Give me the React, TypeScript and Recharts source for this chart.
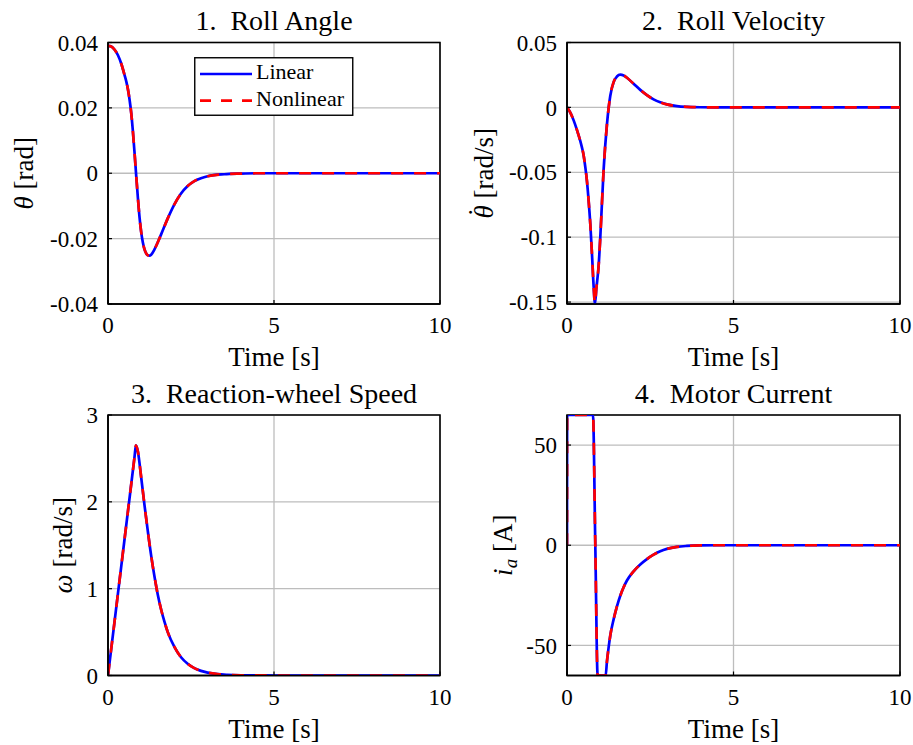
import React from 'react';
import { LineChart, Line, XAxis, YAxis, CartesianGrid, Legend, Label, ReferenceArea } from 'recharts';

const FONT = '"Liberation Serif", "Times New Roman", serif';

// ---- shared axis ticks ----
const timeTicks = [0, 5, 10];
const thetaTicks = [-0.04, -0.02, 0, 0.02, 0.04];
const rateTicks = [-0.15, -0.1, -0.05, 0, 0.05];
const omegaTicks = [0, 1, 2, 3];
const currentTicks = [-50, 0, 50];

// ---- 1. Roll angle ----
const t1 = [0, 0.1, 0.2, 0.3, 0.4, 0.5, 0.55, 0.6, 0.65, 0.7, 0.75, 0.8, 0.85, 0.9, 0.95, 1.0, 1.05, 1.1, 1.15, 1.2, 1.25, 1.3, 1.4, 1.5, 1.6, 1.8, 2.0, 2.2, 2.4, 2.6, 2.8, 3.0, 3.5, 4.0, 4.5, 5, 6, 7, 8, 9, 10];
const thetaLinear = [0.039, 0.0388, 0.0378, 0.0361, 0.0335, 0.03, 0.0281, 0.0257, 0.0225, 0.0184, 0.0128, 0.0062, -0.0008, -0.0075, -0.0135, -0.018, -0.0212, -0.0233, -0.0245, -0.0251, -0.0252, -0.0249, -0.0233, -0.0211, -0.0187, -0.0138, -0.0095, -0.0062, -0.0039, -0.0024, -0.0015, -0.0009, -0.0003, -0.0001, 0, 0, 0, 0, 0, 0, 0];
const thetaNonlinear = [0.039, 0.0388, 0.0378, 0.0361, 0.0335, 0.03, 0.0281, 0.0257, 0.0225, 0.0184, 0.0128, 0.0062, -0.0008, -0.0075, -0.0135, -0.018, -0.0212, -0.0233, -0.0245, -0.0251, -0.0252, -0.0249, -0.0233, -0.0211, -0.0187, -0.0138, -0.0095, -0.0062, -0.0039, -0.0024, -0.0015, -0.0009, -0.0003, -0.0001, 0, 0, 0, 0, 0, 0, 0];

// ---- 2. Roll velocity ----
const t2 = [0, 0.1, 0.2, 0.3, 0.4, 0.45, 0.5, 0.55, 0.6, 0.65, 0.7, 0.75, 0.8, 0.84, 0.88, 0.95, 1.0, 1.1, 1.2, 1.3, 1.4, 1.5, 1.6, 1.7, 1.8, 2.0, 2.2, 2.4, 2.6, 2.8, 3.0, 3.3, 3.6, 4.0, 4.5, 5, 6, 7, 8, 9, 10];
const rateLinear = [0, -0.004, -0.01, -0.0175, -0.026, -0.031, -0.037, -0.046, -0.057, -0.072, -0.09, -0.113, -0.138, -0.1512, -0.14, -0.122, -0.1, -0.048, -0.013, 0.009, 0.0195, 0.0238, 0.0252, 0.0246, 0.0228, 0.0182, 0.0135, 0.0095, 0.0062, 0.0039, 0.0023, 0.001, 0.0004, 0.0001, 0, 0, 0, 0, 0, 0, 0];
const rateNonlinear = [0, -0.004, -0.01, -0.0175, -0.026, -0.031, -0.037, -0.046, -0.057, -0.072, -0.09, -0.113, -0.138, -0.1512, -0.14, -0.122, -0.1, -0.048, -0.013, 0.009, 0.0195, 0.0238, 0.0252, 0.0246, 0.0228, 0.0182, 0.0135, 0.0095, 0.0062, 0.0039, 0.0023, 0.001, 0.0004, 0.0001, 0, 0, 0, 0, 0, 0, 0];

// ---- 3. Reaction-wheel speed ----
const t3 = [0, 0.2, 0.4, 0.6, 0.8, 0.84, 0.9, 1.0, 1.1, 1.2, 1.3, 1.4, 1.5, 1.6, 1.7, 1.8, 2.0, 2.2, 2.4, 2.6, 2.8, 3.0, 3.3, 3.6, 4.0, 4.5, 5, 6, 7, 8, 9, 10];
const omegaLinear = [0, 0.63, 1.26, 1.89, 2.52, 2.65, 2.58, 2.28, 1.96, 1.66, 1.38, 1.14, 0.93, 0.76, 0.62, 0.5, 0.33, 0.21, 0.135, 0.085, 0.053, 0.033, 0.016, 0.008, 0.003, 0.001, 0, 0, 0, 0, 0, 0];
const omegaNonlinear = [0, 0.63, 1.26, 1.89, 2.52, 2.65, 2.58, 2.28, 1.96, 1.66, 1.38, 1.14, 0.93, 0.76, 0.62, 0.5, 0.33, 0.21, 0.135, 0.085, 0.053, 0.033, 0.016, 0.008, 0.003, 0.001, 0, 0, 0, 0, 0, 0];

// ---- 4. Motor current ----
const t4 = [0, 0.005, 0.78, 0.85, 0.92, 1.16, 1.2, 1.25, 1.3, 1.4, 1.5, 1.6, 1.7, 1.8, 2.0, 2.2, 2.4, 2.6, 2.8, 3.0, 3.3, 3.6, 4.0, 4.5, 5, 6, 7, 8, 9, 10];
const currentLinear = [0, 65, 65, 0, -65, -65, -58, -51, -45, -37, -30.5, -25.2, -21, -17.6, -13, -9.6, -6.9, -4.7, -3, -1.8, -0.8, -0.35, -0.1, 0, 0, 0, 0, 0, 0, 0];
const currentNonlinear = [0, 65, 65, 0, -65, -65, -58, -51, -45, -37, -30.5, -25.2, -21, -17.6, -13, -9.6, -6.9, -4.7, -3, -1.8, -0.8, -0.35, -0.1, 0, 0, 0, 0, 0, 0, 0];

const seriesNames = ['Linear', 'Nonlinear'];

function buildRows(t: number[], lin: number[], non: number[]) {
  return t.map((tt, i) => ({ t: tt, linear: lin[i], nonlinear: non[i] }));
}

const fmt = (v: number) => (v === 0 ? '0' : String(v));

const renderLegend = (props: any) => {
  const payload = props.payload || [];
  return (
    <svg width={160} height={60} style={{ display: 'block' }}>
      <rect x={0.75} y={0.75} width={158} height={57.5} fill="#fff" stroke="#000" strokeWidth={1.4} />
      {payload.map((entry: any, i: number) => {
        const y = 17 + i * 26.7;
        const dashed = i === 1;
        return (
          <g key={i}>
            <line x1={6} x2={58} y1={y} y2={y} stroke={entry.color} strokeWidth={2.7} strokeDasharray={dashed ? '11 10' : undefined} />
            <text x={62} y={y + 5} fontFamily={FONT} fontSize={22} fill="#000">{entry.value}</text>
          </g>
        );
      })}
    </svg>
  );
};

type PanelProps = {
  left: number;
  top: number;
  width: number;
  height: number;
  marginTop: number;
  marginRight: number;
  yAxisWidth: number;
  xAxisHeight: number;
  data: any[];
  yDomain: [number, number];
  yTicks: number[];
  title: string;
  yLabel: React.ReactNode;
  yLabelOffset: number;
  showLegend?: boolean;
};

function Panel(p: PanelProps) {
  const axisLine = { stroke: '#000', strokeWidth: 1.6 };
  const tickLine = { stroke: '#000', strokeWidth: 1.2 };
  const tickStyle = { fill: '#000', fontSize: 23, fontFamily: FONT };
  const titleContent = (props: any) => {
    const vb = props.viewBox || {};
    return (
      <text x={vb.x + vb.width / 2} y={vb.y - 12.5} textAnchor="middle" fontFamily={FONT} fontSize={28} fill="#000" style={{ whiteSpace: 'pre' }}>
        {p.title}
      </text>
    );
  };
  const xLabelContent = (props: any) => {
    const vb = props.viewBox || {};
    return (
      <text x={vb.x + vb.width / 2} y={vb.y + 62} textAnchor="middle" fontFamily={FONT} fontSize={27} fill="#000">
        Time [s]
      </text>
    );
  };
  const yLabelContent = (props: any) => {
    const vb = props.viewBox || {};
    const x = vb.x + vb.width - p.yLabelOffset;
    const y = vb.y + vb.height / 2;
    return (
      <text x={x} y={y} textAnchor="middle" transform={`rotate(-90 ${x} ${y})`} fontFamily={FONT} fontSize={27} fill="#000" style={{ whiteSpace: 'pre' }}>
        {p.yLabel}
      </text>
    );
  };
  return (
    <div style={{ position: 'absolute', left: p.left, top: p.top }}>
      <LineChart width={p.width} height={p.height} data={p.data} margin={{ top: p.marginTop, right: p.marginRight, bottom: 0, left: 0 }}>
        <CartesianGrid stroke="#bdbdbd" strokeWidth={1.3} />
        <XAxis dataKey="t" type="number" domain={[0, 10]} ticks={timeTicks} interval={0} height={p.xAxisHeight} tickSize={-4} tickMargin={16.7} axisLine={axisLine} tickLine={tickLine} tick={tickStyle} allowDataOverflow>
          <Label content={xLabelContent} />
        </XAxis>
        <YAxis type="number" domain={p.yDomain} ticks={p.yTicks} interval={0} width={p.yAxisWidth} tickSize={-4} tickMargin={14} tickFormatter={fmt} axisLine={axisLine} tickLine={tickLine} tick={tickStyle} allowDataOverflow>
          <Label content={yLabelContent} />
        </YAxis>
        <ReferenceArea x1={0} x2={10} y1={p.yDomain[0]} y2={p.yDomain[1]} fill="none" fillOpacity={0} stroke="#000" strokeWidth={1.6} strokeOpacity={1} ifOverflow="visible">
          <Label content={titleContent} />
        </ReferenceArea>
        <Line type="monotone" dataKey="linear" name={seriesNames[0]} stroke="#0000ff" strokeWidth={2.7} dot={false} activeDot={false} isAnimationActive={false} />
        <Line type="monotone" dataKey="nonlinear" name={seriesNames[1]} stroke="#ff0000" strokeWidth={2.7} strokeDasharray="12 11" dot={false} activeDot={false} isAnimationActive={false} />
        {p.showLegend ? (
          <Legend layout="horizontal" verticalAlign="middle" align="center" content={renderLegend} wrapperStyle={{ position: 'absolute', left: 194, top: 57, width: 160, height: 60 }} />
        ) : null}
      </LineChart>
    </div>
  );
}

export default function App() {
  const italic = { fontStyle: 'italic' as const };
  return (
    <div style={{ position: 'absolute', left: 0, top: 0, width: 913, height: 745, background: '#fff' }}>
      <Panel
        left={0} top={0} width={456} height={372} marginTop={42.5} marginRight={16} yAxisWidth={108} xAxisHeight={68}
        data={buildRows(t1, thetaLinear, thetaNonlinear)} yDomain={[-0.04, 0.04]} yTicks={thetaTicks}
        title={'1.  Roll Angle'} yLabel={<><tspan style={italic}>θ</tspan> [rad]</>} yLabelOffset={75} showLegend
      />
      <Panel
        left={456} top={0} width={457} height={372} marginTop={42.5} marginRight={13} yAxisWidth={111} xAxisHeight={68}
        data={buildRows(t2, rateLinear, rateNonlinear)} yDomain={[-0.1515, 0.05]} yTicks={rateTicks}
        title={'2.  Roll Velocity'}
        yLabel={<><tspan style={italic}>θ</tspan><tspan dx={-11.5} dy={-6}>˙</tspan><tspan dx={2.5} dy={6}> [rad/s]</tspan></>}
        yLabelOffset={74}
      />
      <Panel
        left={0} top={372} width={456} height={373} marginTop={43} marginRight={16} yAxisWidth={108} xAxisHeight={69.5}
        data={buildRows(t3, omegaLinear, omegaNonlinear)} yDomain={[0, 3]} yTicks={omegaTicks}
        title={'3.  Reaction-wheel Speed'} yLabel={<><tspan style={italic}>ω</tspan> [rad/s]</>} yLabelOffset={36}
      />
      <Panel
        left={456} top={372} width={457} height={373} marginTop={43} marginRight={13} yAxisWidth={111} xAxisHeight={69.5}
        data={buildRows(t4, currentLinear, currentNonlinear)} yDomain={[-65, 65]} yTicks={currentTicks}
        title={'4.  Motor Current'} yLabel={<><tspan style={italic}>i</tspan><tspan style={italic} fontSize={19} dy={5}>a</tspan><tspan dy={-5}> [A]</tspan></>} yLabelOffset={55}
      />
    </div>
  );
}
